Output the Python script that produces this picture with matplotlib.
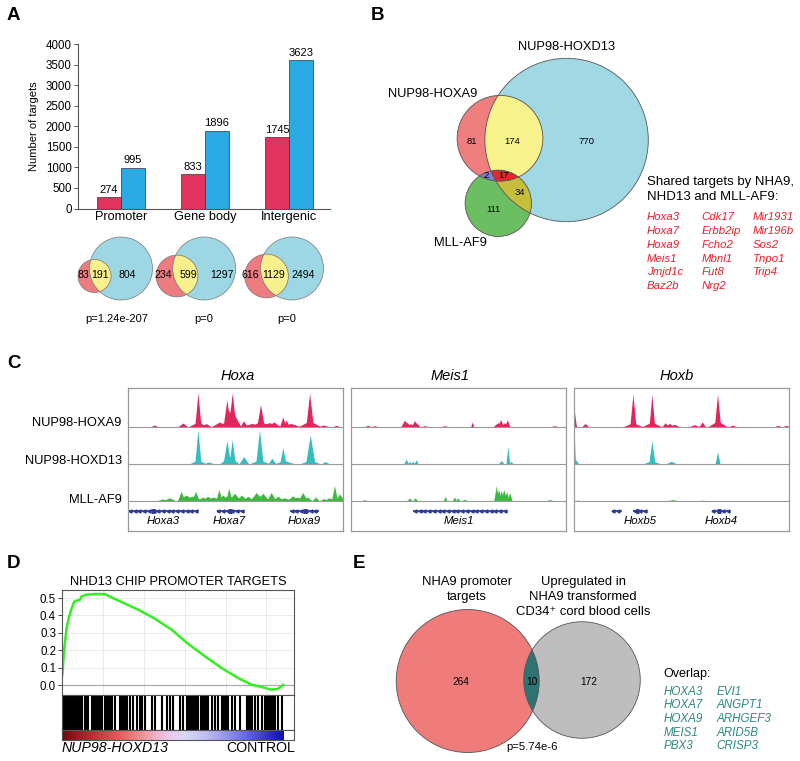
import numpy as np
import matplotlib.pyplot as plt
import matplotlib.patches as mpatches
from matplotlib.colors import LinearSegmentedColormap

plt.rcParams['font.family'] = ['Liberation Sans', 'DejaVu Sans']

# ---------------- data ----------------
# panel A
categories = ['Promoter', 'Gene body', 'Intergenic']
nha9_counts = [274, 833, 1745]
nhd13_counts = [995, 1896, 3623]
# (NHA9 only, shared, NHD13 only)
venn_a_counts = [(83, 191, 804), (234, 599, 1297), (616, 1129, 2494)]
venn_a_pvals = ['p=1.24e-207', 'p=0', 'p=0']

# panel B : regions
b_nha9_only, b_nha9_nhd13, b_nhd13_only = 81, 174, 770
b_nha9_mll, b_all3, b_nhd13_mll, b_mll_only = 2, 17, 34, 111
shared_col1 = ['Hoxa3', 'Hoxa7', 'Hoxa9', 'Meis1', 'Jmjd1c', 'Baz2b']
shared_col2 = ['Cdk17', 'Erbb2ip', 'Fcho2', 'Mbnl1', 'Fut8', 'Nrg2']
shared_col3 = ['Mir1931', 'Mir196b', 'Sos2', 'Tnpo1', 'Trip4']

# panel C : peaks (position %, height % of track, half width %)
hoxa_nha9 = [(12.4, 4, 1.0), (25.7, 9, 1.5), (32.7, 12, 3.0), (32.7, 88, 1.0), (36.5, 8, 1.5),
             (42.8, 12, 2.5), (45, 10, 4), (46.2, 70, 1.2), (47.4, 45, 1.5), (48.7, 88, 1.2),
             (49.8, 30, 2.0), (54.0, 15, 1.2), (58, 8, 4), (61.9, 15, 3.0), (61.9, 58, 1.2),
             (66, 10, 4), (68.1, 12, 2.0), (72.3, 25, 1.0), (73.9, 17, 1.0), (76, 8, 3),
             (84.8, 15, 3.5), (84.8, 88, 1.2), (91.3, 4, 1.5), (97.2, 3, 1.0)]
hoxa_nhd13 = [(32.7, 10, 2.5), (32.7, 90, 1.0), (37.8, 4, 1.5), (47.4, 20, 3.0), (46.2, 60, 1.2),
              (48.7, 63, 1.0), (54.1, 18, 1.5), (61.4, 10, 3.0), (61.4, 88, 1.2), (67.2, 14, 1.2),
              (72.3, 42, 1.0), (73.0, 8, 3.0), (85.1, 10, 3.0), (85.1, 75, 1.5), (92.1, 5, 1.2)]
hoxa_mll = [(16.3, 5, 2), (19.4, 8, 2), (24.9, 25, 1.2), (27.2, 15, 3), (31.6, 25, 1.2), (30, 12, 4),
            (35, 10, 2), (37.3, 12, 2), (40, 10, 3), (42.5, 30, 1.0), (44.3, 15, 2), (47.1, 33, 1.0),
            (49.8, 20, 2), (47, 14, 4), (53, 15, 2), (56, 12, 2), (59.9, 22, 2), (63, 20, 2),
            (61, 14, 4), (66.9, 22, 1.5), (70, 12, 2), (73, 8, 3), (76.9, 13, 2), (79, 10, 3),
            (81.6, 22, 1.5), (83.8, 10, 1.5), (87.6, 10, 1.2), (91.4, 6, 1.5), (94, 8, 2),
            (96.4, 40, 1.0), (98.8, 18, 1.5)]
meis_nha9 = [(8.1, 3, 1), (11.2, 2, 1), (25.2, 17, 1.2), (26.0, 12, 1.5), (28.0, 8, 1),
             (29.8, 16, 1.0), (30.6, 10, 1.2), (34.5, 2, 1), (43.8, 2, 1), (56.7, 12, 0.5),
             (68.6, 10, 1.5), (69.9, 18, 1.0), (71.7, 10, 1.2), (73.0, 18, 0.8), (95, 2, 1)]
meis_nhd13 = [(25.9, 12, 0.7), (27.5, 5, 0.6), (29.0, 6, 0.6), (30.6, 10, 0.6),
              (70.2, 8, 0.8), (73.3, 45, 0.6), (74.8, 6, 0.6)]
meis_mll = [(6.5, 3, 1), (27.5, 8, 0.8), (30.1, 8, 0.8), (44.1, 12, 0.6), (48.4, 10, 0.7),
            (50, 8, 0.7), (53.1, 4, 1), (67.9, 40, 0.8), (69, 30, 1.0), (70.2, 28, 0.8),
            (71.4, 30, 1.0), (72.7, 25, 0.8), (74.1, 22, 0.8), (70.5, 12, 3.0), (92.7, 3, 1.5)]
hoxb_nha9 = [(0.5, 35, 0.6), (5.4, 8, 1), (27.6, 10, 3), (27.6, 85, 1.0), (36.4, 12, 3),
             (36.4, 85, 0.9), (42.6, 10, 1.0), (44.6, 8, 1.5), (46.9, 6, 1.5), (56.2, 5, 1.5),
             (59.8, 12, 1.0), (66.9, 15, 3), (66.9, 85, 1.0), (73.9, 4, 1), (94.9, 3, 1), (98.8, 3, 1)]
hoxb_nhd13 = [(0.2, 15, 1.5), (0.2, 90, 0.5), (36.4, 8, 2.5), (36.4, 60, 1.0),
              (45.4, 6, 1.5), (66.9, 30, 0.8)]
hoxb_mll = [(2, 2, 1), (46.1, 3, 2), (60, 1.5, 2)]

# genes: (name, start, end, exons)
hoxa_genes = [('Hoxa3', 0.0, 32.7, [11.7]), ('Hoxa7', 41.2, 53.3, [47.4]), ('Hoxa9', 75.4, 89.1, [82.4])]
meis_genes = [('Meis1', 29.0, 71.7, [])]
hoxb_genes = [('', 17.5, 22.4, []), ('Hoxb5', 27.6, 33.7, [29.5]), ('Hoxb4', 63.9, 72.4, [67.5])]

# panel D : running enrichment score (rank out of 1000)
es_rank = [0, 8.6, 18.7, 28.7, 40.2, 51.7, 61.8, 76.1, 83.3, 104.9, 140.8, 183.9, 212.6,
           255.7, 327.6, 399.4, 471.3, 543.1, 614.9, 686.8, 758.6, 816.1, 859.2, 902.3, 931, 952.6]
es_value = [0.06, 0.21, 0.33, 0.39, 0.44, 0.48, 0.485, 0.49, 0.51, 0.52, 0.523, 0.523, 0.504,
            0.477, 0.433, 0.381, 0.318, 0.236, 0.165, 0.098, 0.04, 0.002, -0.011, -0.027, -0.021, 0.002]
hit_ranks = [0, 6, 12, 18, 24, 30, 36, 42, 48, 54, 60, 66, 76, 83, 98, 104, 112, 126, 132, 138,
             144, 150, 156, 162, 170, 184, 190, 196, 205, 213, 227, 249, 256, 262, 270, 277, 292,
             306, 320, 335, 345, 356, 385, 400, 428, 450, 464, 478, 507, 522, 536, 542, 548, 556,
             562, 570, 578, 586, 598, 606, 616, 622, 629, 644, 658, 672, 687, 694, 700, 710, 716,
             730, 744, 766, 795, 802, 810, 818, 830, 845, 859, 874, 880, 888, 896, 904, 912, 917,
             931, 946]
n_ranked = 953

# panel E
e_nha9_only, e_overlap, e_up_only = 264, 10, 172
overlap_col1 = ['HOXA3', 'HOXA7', 'HOXA9', 'MEIS1', 'PBX3']
overlap_col2 = ['EVI1', 'ANGPT1', 'ARHGEF3', 'ARID5B', 'CRISP3']

# ---------------- figure ----------------
W, H = 800, 761
fig = plt.figure(figsize=(8, 7.61), dpi=100)


def px_axes(l, t, r, b):
    return fig.add_axes([l / W, 1 - b / H, (r - l) / W, (b - t) / H])


ov = fig.add_axes([0, 0, 1, 1])
ov.set_xlim(0, W)
ov.set_ylim(H, 0)
ov.axis('off')


def inter_poly(circles, n=1440):
    pts = []
    t = np.linspace(0, 2 * np.pi, n, endpoint=False)
    for i, (cx, cy, r) in enumerate(circles):
        px, py = cx + r * np.cos(t), cy + r * np.sin(t)
        ok = np.ones(n, bool)
        for j, (ox, oy, rr) in enumerate(circles):
            if j != i:
                ok &= (px - ox) ** 2 + (py - oy) ** 2 <= rr ** 2
        pts.append(np.c_[px[ok], py[ok]])
    pts = np.vstack(pts)
    c = pts.mean(0)
    ang = np.arctan2(pts[:, 1] - c[1], pts[:, 0] - c[0])
    return pts[np.argsort(ang)]


def circle(c, fc, ec='none', lw=0.6):
    ov.add_patch(mpatches.Circle((c[0], c[1]), c[2], fc=fc, ec=ec, lw=lw))


for lab, x, y in [('A', 7, 16), ('B', 371, 16), ('C', 7, 363), ('D', 7, 563), ('E', 353, 563)]:
    ov.text(x, y, lab, fontsize=13.5, fontweight='bold', ha='left', va='center')

# ---- A : bars
RED_A, BLUE_A = '#E2325E', '#2AAAE2'
axA = px_axes(78, 44.3, 330, 208.5)
x = np.arange(len(categories))
w = 0.282
axA.bar(x - w / 2, nha9_counts, w, color=RED_A, edgecolor='#333333', lw=0.5)
axA.bar(x + w / 2, nhd13_counts, w, color=BLUE_A, edgecolor='#333333', lw=0.5)
for xs, vals in [(x - w / 2, nha9_counts), (x + w / 2, nhd13_counts)]:
    for xi, v in zip(xs, vals):
        axA.text(xi, v + 175, str(v), ha='center', va='center', fontsize=8)
axA.set_xlim(-0.512, 2.488)
axA.set_ylim(0, 4000)
axA.set_yticks(range(0, 4001, 500))
axA.set_xticks(x)
axA.set_xticklabels(categories, fontsize=9.2)
axA.tick_params(axis='x', length=0, pad=2)
axA.tick_params(axis='y', length=3, width=0.7, labelsize=8.3, pad=1.5, color='#555555')
for s in ['top', 'right']:
    axA.spines[s].set_visible(False)
for s in ['left', 'bottom']:
    axA.spines[s].set_color('#555555')
    axA.spines[s].set_linewidth(0.8)
axA.set_ylabel('Number of targets', fontsize=8, labelpad=5)

for yy, c, lab in [(51, RED_A, 'NUP98-HOXA9'), (66, BLUE_A, 'NUP98-HOXD13')]:
    ov.add_patch(mpatches.Rectangle((87, yy - 4), 9, 8, fc=c, ec='#333333', lw=0.4))
    ov.text(98.5, yy, lab, fontsize=8.8, va='center', ha='left')

# ---- A : small venns
VB, VR, VY = '#9DD7E4', '#EE7B80', '#F7F08C'
blue_cx = [121.0, 204.2, 292.0]
red_cx = [94.5, 177.0, 266.5]
num_x = [(83.3, 100, 127.3), (163.3, 188.3, 221.7), (250, 273.3, 303.3)]
p_x = [116.7, 203.3, 286.7]
for k, (a, s, b) in enumerate(venn_a_counts):
    rb = 31.5
    rr = rb * np.sqrt((a + s) / (s + b))
    cb = (blue_cx[k], 268.5, rb)
    cr = (red_cx[k], 276.0, rr)
    circle(cb, VB)
    circle(cr, VR)
    poly = inter_poly([cb, cr])
    ov.fill(poly[:, 0], poly[:, 1], color=VY, lw=0)
    circle(cb, 'none', '#777777', 0.5)
    circle(cr, 'none', '#777777', 0.5)
    for xx, v in zip(num_x[k], (a, s, b)):
        ov.text(xx, 275.5, str(v), ha='center', va='center', fontsize=7.6)
    ov.text(p_x[k], 318.5, venn_a_pvals[k], ha='center', va='center', fontsize=8)

# ---- B : three-way venn
nhd13_total = b_nhd13_only + b_nha9_nhd13 + b_all3 + b_nhd13_mll
nha9_total = b_nha9_only + b_nha9_nhd13 + b_all3 + b_nha9_mll
mll_total = b_mll_only + b_nha9_mll + b_all3 + b_nhd13_mll
RB = 81.7
cB = (566.6, 140.0, RB)
cR = (500.0, 138.3, RB * np.sqrt(nha9_total / nhd13_total))
cG = (498.3, 203.3, RB * np.sqrt(mll_total / nhd13_total))
circle(cB, '#A0D8E4')
circle(cR, '#EF7E7E')
circle(cG, '#6CBE62')
for cs, col in [([cR, cB], '#F8F28D'), ([cG, cB], '#C6BE3A'), ([cG, cR], '#7E7ED3'),
                ([cG, cR, cB], '#E6262C')]:
    poly = inter_poly(cs)
    ov.fill(poly[:, 0], poly[:, 1], color=col, lw=0)
for c in (cB, cR, cG):
    circle(c, 'none', '#555555', 0.6)
for xx, yy, v in [(471.7, 141, b_nha9_only), (512.3, 141, b_nha9_nhd13), (586.7, 141, b_nhd13_only),
                  (486, 175.7, b_nha9_mll), (504, 175.7, b_all3), (520, 192.7, b_nhd13_mll),
                  (493.3, 209, b_mll_only)]:
    ov.text(xx, yy, str(v), ha='center', va='center', fontsize=6.8)
ov.text(566.7, 46.7, 'NUP98-HOXD13', ha='center', va='center', fontsize=9.3)
ov.text(477, 94.3, 'NUP98-HOXA9', ha='right', va='center', fontsize=9.3)
ov.text(460, 242.7, 'MLL-AF9', ha='center', va='center', fontsize=9.3)
ov.text(646.7, 181.7, 'Shared targets by NHA9,', ha='left', va='center', fontsize=9.5)
ov.text(646.7, 197.3, 'NHD13 and MLL-AF9:', ha='left', va='center', fontsize=9.5)
for cx, col in zip([646.7, 701.7, 752.7], [shared_col1, shared_col2, shared_col3]):
    for i, g in enumerate(col):
        ov.text(cx, 217.3 + i * 13.75, g, ha='left', va='center', fontsize=8.2,
                style='italic', color='#E8202C')

# ---- C : tracks
TR_RED, TR_TEAL, TR_GREEN = '#E2255A', '#35BEC0', '#3DBA3D'
NAVY = '#2B3A9C'
BOX_H = 142.7
baselines = [104.0, 67.0, 29.7]
TRACK_H = 38.0
WIDEN = 1.45
boxes = [(128.3, 342.7, 'Hoxa', 238, [hoxa_nha9, hoxa_nhd13, hoxa_mll], hoxa_genes),
         (351.0, 565.7, 'Meis1', 450, [meis_nha9, meis_nhd13, meis_mll], meis_genes),
         (574.0, 789.3, 'Hoxb', 676.7, [hoxb_nha9, hoxb_nhd13, hoxb_mll], hoxb_genes)]
for l, r, title, tx, tracks, genes in boxes:
    ax = px_axes(l, 388.3, r, 531)
    ax.set_xlim(0, 100)
    ax.set_ylim(0, BOX_H)
    ax.set_xticks([])
    ax.set_yticks([])
    for s in ax.spines.values():
        s.set_color('#999999')
        s.set_linewidth(0.9)
    for base, peaks, col in zip(baselines, tracks, [TR_RED, TR_TEAL, TR_GREEN]):
        for p, h, hw in peaks:
            hw = hw * WIDEN
            ax.fill([p - hw, p, p + hw], [base, base + h / 100 * TRACK_H, base], color=col, lw=0)
        ax.plot([0, 100], [base + 0.4, base + 0.4], color=col, lw=0.7, alpha=0.6)
        ax.axhline(base, color='#999999', lw=0.8)
    for name, g0, g1, exons in genes:
        ax.plot([g0, g1], [20.3, 20.3], color=NAVY, lw=1.2, solid_capstyle='butt')
        marks = np.arange(g0 + 0.8, g1, 2.2)
        ax.plot(marks, np.full(len(marks), 20.3), ls='none', marker='<', ms=2.2, color=NAVY)
        for e in exons:
            ax.plot([e - 0.9, e + 0.9], [20.3, 20.3], color=NAVY, lw=3.5, solid_capstyle='butt')
        if name:
            ax.text((g0 + g1) / 2, 10.5, name, ha='center', va='center', fontsize=8.2, style='italic')
    ov.text(tx, 376, title, ha='center', va='center', fontsize=10.5, style='italic')

for yy, lab in [(423.3, 'NUP98-HOXA9'), (460.7, 'NUP98-HOXD13'), (500, 'MLL-AF9')]:
    ov.text(121.7, yy, lab, ha='right', va='center', fontsize=9.3)

# ---- D : GSEA
axD = px_axes(62.3, 589.7, 294.3, 695.3)
axD.set_xlim(0, 1000)
axD.set_ylim(-0.059, 0.548)
axD.set_xticks([176, 352, 528, 704, 880])
axD.set_yticks(np.arange(0, 0.51, 0.1))
axD.set_yticklabels(['%.1f' % v for v in np.arange(0, 0.51, 0.1)])
axD.grid(True, color='#E6E6E6', lw=0.6)
axD.set_axisbelow(True)
axD.tick_params(axis='x', length=0, labelbottom=False)
axD.tick_params(axis='y', length=3, width=0.7, labelsize=8.3, pad=1.5, color='#444444')
axD.axhline(0, color='#AAAAAA', lw=0.9)
axD.plot(es_rank, es_value, color='#33EE22', lw=1.8)
for s in axD.spines.values():
    s.set_color('#555555')
    s.set_linewidth(0.8)

axH = px_axes(62.3, 695.3, 294.3, 729.7)
axH.set_xlim(0, 1000)
axH.set_ylim(0, 1)
axH.vlines(hit_ranks, 0, 1, color='black', lw=1.5)
axH.set_xticks([])
axH.set_yticks([])
for s in axH.spines.values():
    s.set_color('#555555')
    s.set_linewidth(0.8)

gsea_cmap = LinearSegmentedColormap.from_list('gsea', [
    (0.0, '#6A0A10'), (0.12, '#C02530'), (0.25, '#E25A5A'), (0.35, '#EE8C8C'),
    (0.42, '#F2B0CC'), (0.48, '#EAC8EA'), (0.55, '#D8D8F6'), (0.65, '#BEBEF2'),
    (0.75, '#9090EC'), (0.85, '#5C5CE2'), (0.93, '#3030D0'), (1.0, '#1010B0')])
axC = px_axes(62.3, 729.7, 294.3, 739.7)
axC.imshow(np.linspace(0, 1, 256)[None, :], extent=(0, n_ranked, 0, 1), aspect='auto', cmap=gsea_cmap)
axC.set_xlim(0, 1000)
axC.set_ylim(0, 1)
axC.set_xticks([])
axC.set_yticks([])
for s in axC.spines.values():
    s.set_color('#555555')
    s.set_linewidth(0.8)

ov.text(178.3, 582.3, 'NHD13 CHIP PROMOTER TARGETS', ha='center', va='center', fontsize=9.3)
ov.text(293, 596, 'FDR-q = 0.0831', ha='right', va='center', fontsize=7)
ov.text(293, 608.3, 'NES = 1.596', ha='right', va='center', fontsize=7)
ov.text(61.7, 748.3, 'NUP98-HOXD13', ha='left', va='center', fontsize=10.2, style='italic')
ov.text(295, 748.3, 'CONTROL', ha='right', va='center', fontsize=10.2)

# ---- E : two-way venn
RE = 71.5
cE1 = (467.7, 681.0, RE)
cE2 = (582.0, 680.0, RE * np.sqrt((e_up_only + e_overlap) / (e_nha9_only + e_overlap)))
circle(cE1, '#F07B7B')
circle(cE2, '#BEBEBE')
poly = inter_poly([cE1, cE2])
ov.fill(poly[:, 0], poly[:, 1], color='#2E7272', lw=0)
circle(cE1, 'none', '#555555', 0.6)
circle(cE2, 'none', '#555555', 0.6)
for xx, v in [(460.7, e_nha9_only), (531.7, e_overlap), (589, e_up_only)]:
    ov.text(xx, 681.7, str(v), ha='center', va='center', fontsize=7.3)
ov.text(532.3, 747.3, 'p=5.74e-6', ha='center', va='center', fontsize=8.2)
ov.text(466.7, 581.7, 'NHA9 promoter', ha='center', va='center', fontsize=9.4)
ov.text(466.7, 597.3, 'targets', ha='center', va='center', fontsize=9.4)
ov.text(583.3, 581.7, 'Upregulated in', ha='center', va='center', fontsize=9.4)
ov.text(583.3, 597.3, 'NHA9 transformed', ha='center', va='center', fontsize=9.4)
ov.text(583.3, 612.0, 'CD34⁺ cord blood cells', ha='center', va='center', fontsize=9.4)
ov.text(663.3, 674, 'Overlap:', ha='left', va='center', fontsize=9)
for cx, col in zip([663.3, 716.7], [overlap_col1, overlap_col2]):
    for i, g in enumerate(col):
        ov.text(cx, 691.7 + i * 13.6, g, ha='left', va='center', fontsize=8.4,
                style='italic', color='#2A8A80')

fig.savefig('out.png', dpi=100)
